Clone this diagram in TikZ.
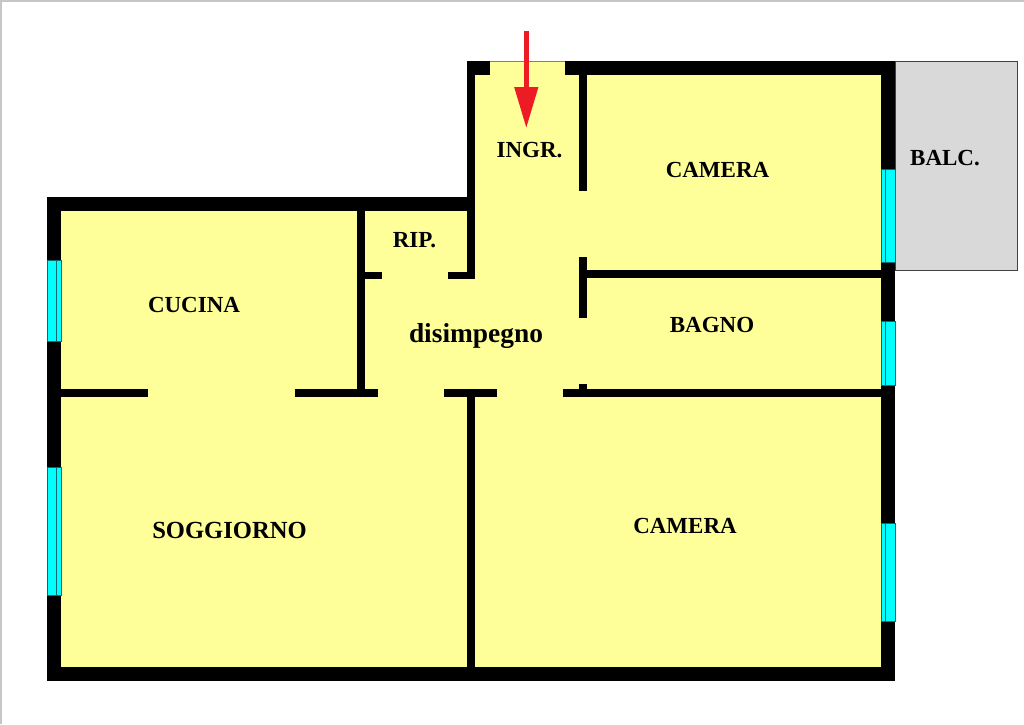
\documentclass[tikz,border=0pt]{standalone}
\usepackage{fontspec}
\setmainfont{Liberation Serif}
\usetikzlibrary{arrows.meta}
\definecolor{floorcol}{HTML}{FFFF99}
\definecolor{balccol}{HTML}{D9D9D9}
\definecolor{glasscol}{HTML}{00FFFF}
\definecolor{framecol}{HTML}{0A6A70}
\definecolor{entrycol}{HTML}{ED1C24}
\tikzset{
    wall/.style={fill=black},
    glass/.style={draw=framecol, fill=glasscol, line width=0.8pt},
    pane/.style={draw=framecol, line width=0.8pt},
    room/.style={font=\fontsize{23}{23}\selectfont\bfseries, inner sep=0pt},
    bigroom/.style={room, font=\fontsize{24.6}{24.6}\selectfont\bfseries},
    hallroom/.style={room, font=\fontsize{27.4}{27.4}\selectfont\bfseries},
}
\begin{document}
\begin{tikzpicture}[x=1pt, y=-1pt]
        \useasboundingbox (0, 0) rectangle (1024, 724);
        \fill[white] (0, 0) rectangle (1024, 724);
        \draw[gray!45, line width=3pt] (0, 724) -- (0, 0) -- (1024, 0);

        \fill[floorcol] (47, 197) -- (467, 197) -- (467, 61) -- (895, 61)
            -- (895, 681) -- (47, 681) -- cycle;
        \draw[balccol!30!black, line width=0.9pt, fill=balccol] (895, 61) rectangle (1017, 270);
        \draw[gray, line width=0.6pt] (490, 61) -- (565, 61);

        \fill[wall] (47, 197) rectangle (467, 211);
        \fill[wall] (47, 197) rectangle (61, 681);
        \fill[wall] (47, 667) rectangle (895, 681);
        \fill[wall] (881, 61) rectangle (895, 681);
        \fill[wall] (565, 61) rectangle (895, 75);
        \fill[wall] (467, 61) rectangle (490, 75);
        \fill[wall] (467, 61) rectangle (475, 279);
        \fill[wall] (448, 272) rectangle (475, 279);
        \fill[wall] (357, 211) rectangle (365, 397);
        \fill[wall] (365, 272) rectangle (382, 279);
        \fill[wall] (579, 75) rectangle (587, 191);
        \fill[wall] (579, 257) rectangle (587, 318);
        \fill[wall] (587, 270) rectangle (881, 278);
        \fill[wall] (579, 384) rectangle (587, 389);
        \fill[wall] (61, 389) rectangle (148, 397);
        \fill[wall] (295, 389) rectangle (378, 397);
        \fill[wall] (444, 389) rectangle (497, 397);
        \fill[wall] (563, 389) rectangle (881, 397);
        \fill[wall] (467, 397) rectangle (475, 667);

        \draw[glass] (47, 260) rectangle (61, 341);
        \draw[pane]  (56, 260) -- (56, 341);
        \draw[glass] (47, 467) rectangle (61, 595);
        \draw[pane]  (56, 467) -- (56, 595);
        \draw[glass] (881, 169) rectangle (895, 262);
        \draw[pane]  (885, 169) -- (885, 262);
        \draw[glass] (881, 321) rectangle (895, 385);
        \draw[pane]  (885, 321) -- (885, 385);
        \draw[glass] (881, 523) rectangle (895, 621);
        \draw[pane]  (885, 523) -- (885, 621);

        \node[room] (ingr)  at (529.5, 150) {INGR.};
        \node[room] (cam1)  at (717.5, 170) {CAMERA};
        \node[room] (balc)  at (945, 158)   {BALC.};
        \node[room] (rip)   at (414.5, 240) {RIP.};
        \node[room] (cuc)   at (194, 305)   {CUCINA};
        \node[room] (bagno) at (712, 325)   {BAGNO};
        \node[hallroom] (dis)  at (476, 336)   {disimpegno};
        \node[bigroom]  (sogg) at (229.5, 530) {SOGGIORNO};
        \node[room] (cam2)  at (685, 526)   {CAMERA};

        \coordinate (arrtop) at (526.3, 31);
        \coordinate (arrtip) at (526.3, 128);
        \draw[entrycol, line width=4.5pt, -{Triangle[length=41pt, width=23pt]}] (arrtop) -- (arrtip);
    \end{tikzpicture}
\end{document}
